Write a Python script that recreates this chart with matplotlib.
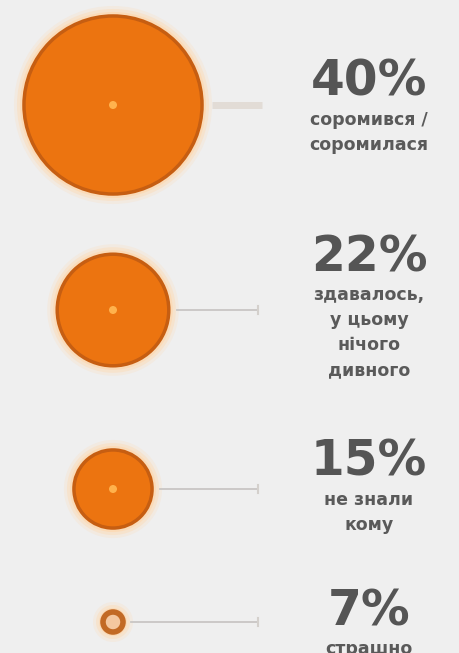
import matplotlib.pyplot as plt
import numpy as np
from matplotlib.patches import Circle

# data
percents = [40, 22, 15, 7]
labels = ['40%', '22%', '15%', '7%']
captions = ['соромився /\nсоромилася',
            'здавалось,\nу цьому\nнічого\nдивного',
            'не знали\nкому',
            'страшно']


def radius_scale(v):
    # power-like scale for bubble size in pixels
    return 10 * (np.asarray(v, dtype=float) - 6) ** 0.62


def draw_bubbles(ax, values, texts, notes):
    row_y = [105, 310, 489, 622]
    cx = 113
    tx = 369
    orange = '#ec7410'
    edge = '#c65e12'
    for i in range(len(values)):
        r = float(radius_scale(values[i]))
        y = row_y[i]
        # soft halo
        for k, a in [(10, 0.2), (7, 0.35), (4, 0.6)]:
            ax.add_patch(Circle((cx, y), r + k, color='#ffd6aa', alpha=a, lw=0))
        if values[i] > 10:
            ax.add_patch(Circle((cx, y), r, facecolor=orange, edgecolor=edge, lw=2.5))
            ax.add_patch(Circle((cx, y), 4, color='#ffb24d', lw=0))
        else:
            ax.add_patch(Circle((cx, y), r, facecolor='#f4c8a0', edgecolor='#c26a25', lw=4))
        # connector line
        if i == 0:
            ax.plot([cx + r + 10, 262], [y, y], color='#e2dcd6', lw=5, solid_capstyle='butt')
        else:
            ax.plot([cx + r + 8, 258], [y, y], color='#c9c6c4', lw=1.3)
            ax.plot([258, 258], [y - 4, y + 4], color='#d4d0cc', lw=1.5)

        ty = [82, 257, 462, 611][i]
        ax.text(tx, ty, texts[i], ha='center', va='center', fontsize=35,
                fontweight='bold', color='#555555')
        ax.text(tx, ty + 29, notes[i], ha='center', va='top', fontsize=12.5,
                fontweight='bold', color='#5a5a5a', linespacing=1.5)


def main():
    fig = plt.figure(figsize=(4.6, 6.53), dpi=100)
    fig.patch.set_facecolor('#efefef')
    ax = fig.add_axes([0, 0, 1, 1])
    ax.set_facecolor('#efefef')
    ax.set_xlim(0, 460)
    ax.set_ylim(653, 0)
    ax.set_aspect('equal')
    ax.axis('off')

    draw_bubbles(ax, percents, labels, captions)

    fig.savefig('out.png', dpi=100, facecolor=fig.get_facecolor())


if __name__ == '__main__':
    main()
